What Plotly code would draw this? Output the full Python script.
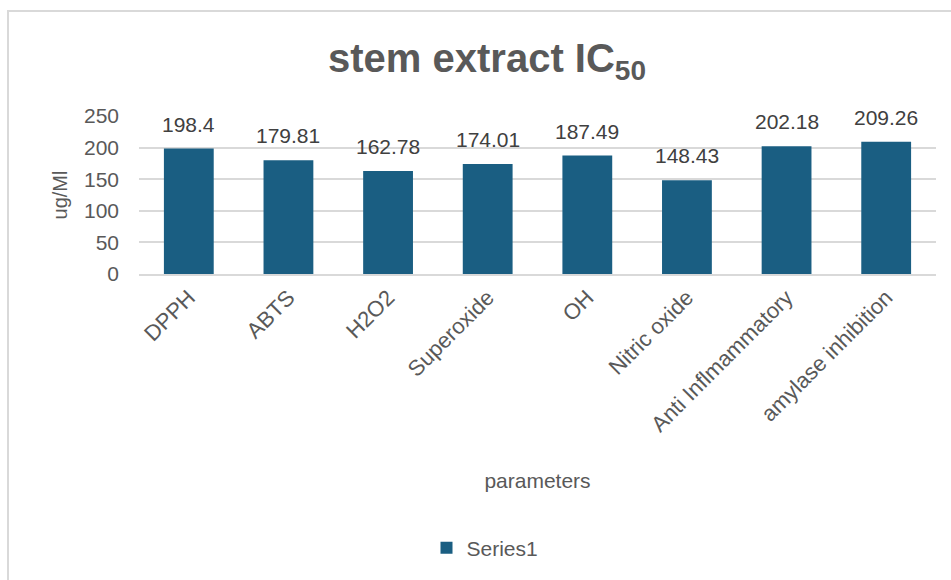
import plotly.graph_objects as go

categories = ["DPPH", "ABTS", "H2O2", "Superoxide", "OH", "Nitric oxide",
              "Anti Inflmammatory", "amylase inhibition"]
values = [198.4, 179.81, 162.78, 174.01, 187.49, 148.43, 202.18, 209.26]
labels = ["198.4", "179.81", "162.78", "174.01", "187.49", "148.43", "202.18", "209.26"]
y_ticks = [0, 50, 100, 150, 200, 250]

W, H = 951, 580
L, R, T, B = 139, 15, 116, 306
pw, ph = W - L - R, H - T - B

def px_x(p):
    return (p - L) / pw

def px_y(p):
    return (H - B - p) / ph

grey = "#595959"
font_fam = "Liberation Sans, Arial, sans-serif"

fig = go.Figure()
fig.add_trace(go.Bar(
    x=categories, y=values, name="Series1",
    marker=dict(color="#1a5e82", line=dict(width=0)),
))

for c, v, t in zip(categories, values, labels):
    fig.add_annotation(x=c, y=v, text=t, showarrow=False, yanchor="bottom", yshift=11,
                       font=dict(size=21, color="#404040", family=font_fam))

fig.update_layout(
    width=W, height=H,
    margin=dict(l=L, r=R, t=T, b=B),
    paper_bgcolor="white", plot_bgcolor="white",
    bargap=0.5,
    showlegend=True,
    legend=dict(orientation="h", x=px_x(485), y=px_y(548), xanchor="center", yanchor="middle",
                font=dict(size=21, color=grey, family=font_fam)),
    title=dict(text="stem extract IC<sub>50</sub>", x=487 / W, xanchor="center",
               y=1 - 58 / H, yanchor="middle",
               font=dict(size=40, color=grey, family=font_fam, weight="bold")),
    font=dict(family=font_fam, color=grey),
    shapes=[dict(type="rect", xref="paper", yref="paper",
                 x0=px_x(8), x1=px_x(960), y0=px_y(600), y1=px_y(11),
                 line=dict(color="#d9d9d9", width=2), fillcolor="rgba(0,0,0,0)", layer="below")],
)
fig.update_yaxes(range=[0, 250], tickvals=y_ticks, showgrid=True, gridcolor="#d9d9d9", gridwidth=1.5,
                 zeroline=False, showline=False, ticks="", ticklabelstandoff=19,
                 tickfont=dict(size=21, color=grey),
                 title=dict(text="ug/Ml", font=dict(size=20, color=grey), standoff=10))
fig.update_xaxes(showline=True, linecolor="#d9d9d9", linewidth=2, tickangle=-45, ticks="",
                 tickfont=dict(size=22, color=grey),
                 title=dict(text="parameters", font=dict(size=21, color=grey), standoff=38))

fig.write_html("out.html")
